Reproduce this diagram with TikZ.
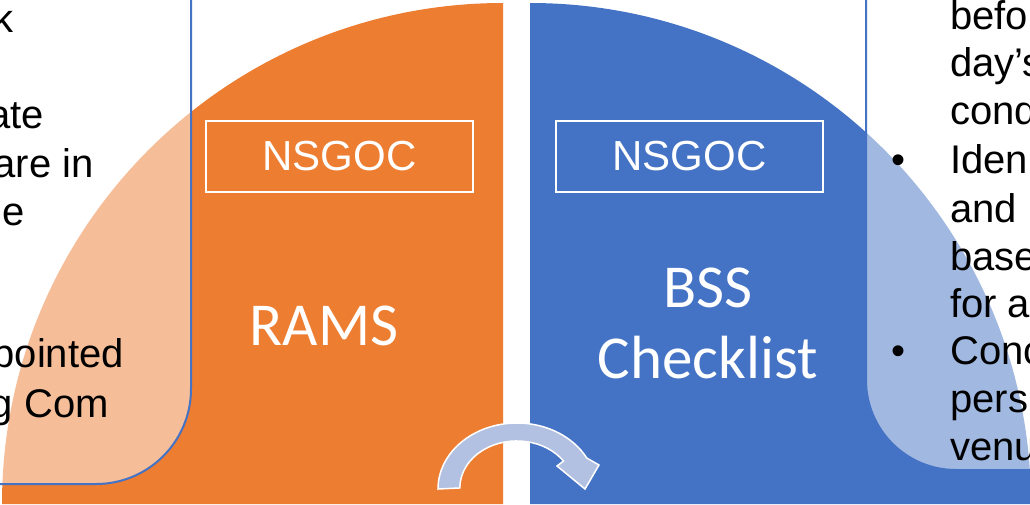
\documentclass[tikz,border=0pt]{standalone}
\usepackage{fontspec}
\setmainfont{Liberation Sans}
\newfontfamily\calibri{Carlito}
\definecolor{orng}{HTML}{ED7D31}
\definecolor{blu}{HTML}{4472C4}
\definecolor{arrowfill}{RGB}{178,192,225}
\tikzset{
  textbox/.style={draw=blu, line width=2pt, fill=white, fill opacity=0.5},
  tagbox/.style={draw=white, line width=1.5pt, minimum width=267pt, minimum height=71pt, inner sep=0pt, text=white, font=\fontsize{42}{50}\selectfont},
  biglabel/.style={text=white, inner sep=0pt, font=\calibri\fontsize{61}{72}\selectfont},
  bodytext/.style={inner sep=0pt, text=black, font=\fontsize{40}{48}\selectfont},
  arrowshape/.style={draw=white, line width=1.5pt, fill=arrowfill, line join=miter}
}
\begin{document}
\begin{tikzpicture}[x=1pt, y=-1pt]
\useasboundingbox (0,0) rectangle (1030,504);
\clip (0,0) rectangle (1030,504);
\fill[white] (0,0) rectangle (1030,504);
% quarter discs
\fill[orng] (503,504) -- (2,504) arc[start angle=180, end angle=270, radius=501] -- cycle;
\fill[blu] (530,504) -- (1031,504) arc[start angle=0, end angle=-90, radius=501] -- cycle;
% text boxes
\path[textbox] (-20,-20) -- (191,-20) -- (191,389) arc[start angle=0, end angle=90, radius=95] -- (-20,484) -- cycle;
\path[textbox] (1050,-20) -- (866,-20) -- (866,380) arc[start angle=180, end angle=90, radius=90] -- (1050,470) -- cycle;
% left text fragments
\node[bodytext, anchor=base east] (l1) at (14,32) {k};
\node[bodytext, anchor=base east] (l2) at (44,128) {ate};
\node[bodytext, anchor=base east] (l3) at (94,177) {are in};
\node[bodytext, anchor=base east] (l4) at (25,225) {e};
\node[bodytext, anchor=base east] (l5) at (124,367) {pointed};
\node[bodytext, anchor=base east] (l6) at (109,417) {g Com};
% right text fragments
\node[bodytext, anchor=base west] (r1) at (950,29) {befo};
\node[bodytext, anchor=base west] (r2) at (950,76) {day’s};
\node[bodytext, anchor=base west] (r3) at (950,124) {cond};
\node[bodytext, anchor=base west] (b1) at (891,173) {•};
\node[bodytext, anchor=base west] (r4) at (950,173) {Iden};
\node[bodytext, anchor=base west] (r5) at (950,222) {and};
\node[bodytext, anchor=base west] (r6) at (950,270) {base};
\node[bodytext, anchor=base west] (r7) at (950,317) {for a};
\node[bodytext, anchor=base west] (b2) at (891,364) {•};
\node[bodytext, anchor=base west] (r8) at (950,364) {Conc};
\node[bodytext, anchor=base west] (r9) at (950,412) {pers};
\node[bodytext, anchor=base west] (r10) at (950,460) {venu};
% tag boxes
\node[tagbox] (tagL) at (339.5,156.5) {NSGOC};
\node[tagbox] (tagR) at (689.5,156.5) {NSGOC};
% big labels
\node[biglabel, anchor=base] (rams) at (324,345) {RAMS};
\node[biglabel, anchor=base] (bss) at (708,307) {BSS};
\node[biglabel, anchor=base] (chk) at (708,378) {Checklist};
% curved arrow
\path[arrowshape] (438,489) arc[start angle=180, end angle=332, x radius=79, y radius=66]
  -- (599,465) -- (585,489) -- (557,466)
  -- (563.5,461) arc[start angle=325, end angle=180, x radius=57, y radius=47] -- cycle;
\end{tikzpicture}
\end{document}
